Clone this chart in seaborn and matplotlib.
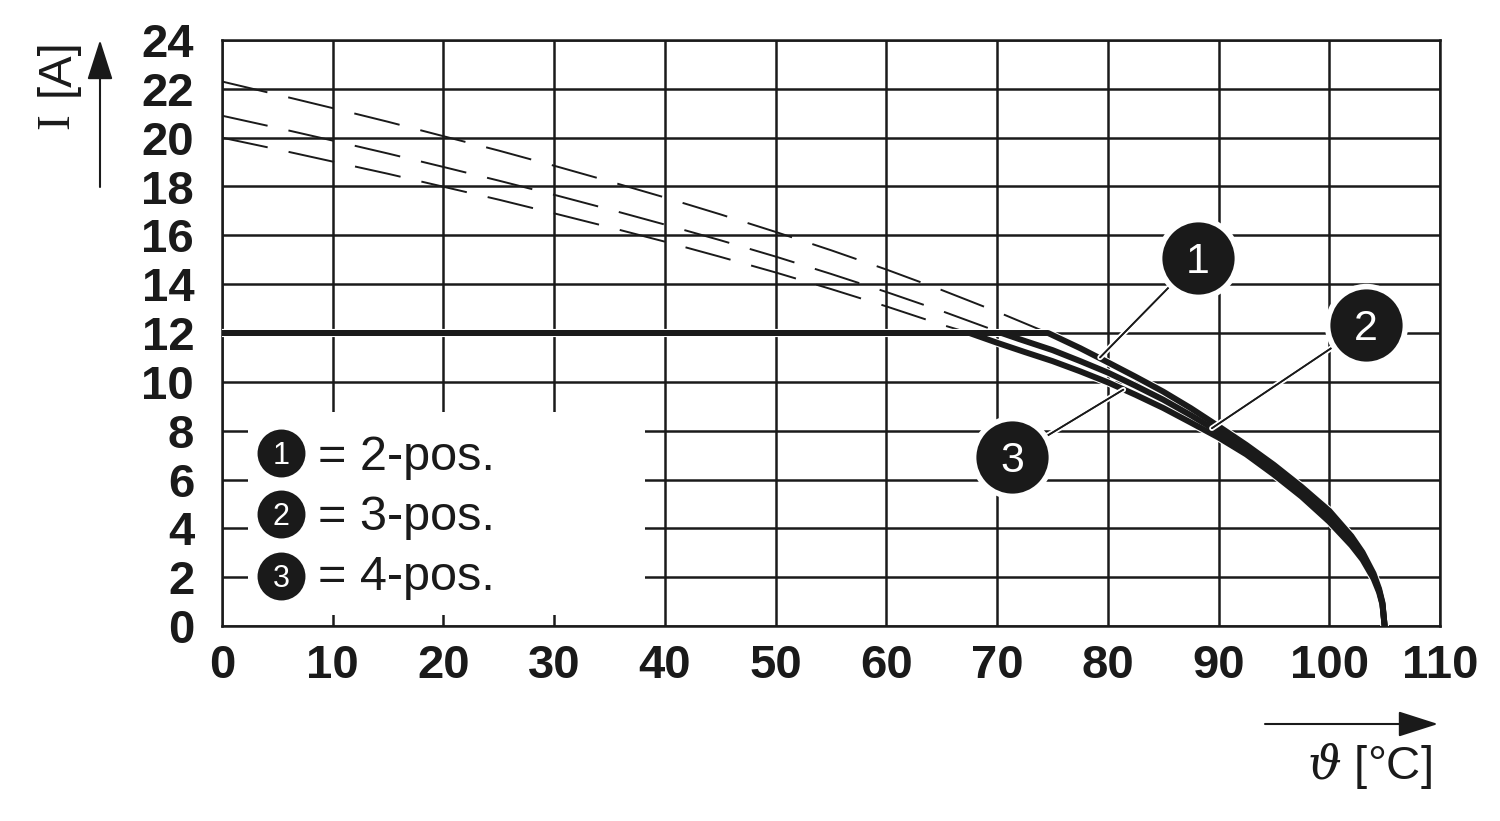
import matplotlib
matplotlib.use("Agg")
import matplotlib.pyplot as plt
import matplotlib.patheffects as pe
from matplotlib.patches import Rectangle
import seaborn as sns

# ---------------- data ----------------
x_ticks = [0, 10, 20, 30, 40, 50, 60, 70, 80, 90, 100, 110]
y_ticks = [0, 2, 4, 6, 8, 10, 12, 14, 16, 18, 20, 22, 24]

# dashed (unlimited) curves
dash1_t = [0, 5, 10, 15, 20, 25, 30, 35, 40, 45, 50, 55, 60, 65, 70, 74.6]
dash1_i = [22.3, 21.76, 21.21, 20.65, 20.06, 19.47, 18.85, 18.21, 17.55, 16.86, 16.14, 15.39, 14.6, 13.76, 12.87, 12.0]
dash2_t = [0, 5, 10, 15, 20, 25, 30, 35, 40, 45, 50, 55, 60, 65, 70, 70.4]
dash2_i = [20.9, 20.4, 19.88, 19.35, 18.8, 18.24, 17.66, 17.06, 16.44, 15.8, 15.13, 14.42, 13.68, 12.9, 12.07, 12.0]
dash3_t = [0, 5, 10, 15, 20, 25, 30, 35, 40, 45, 50, 55, 60, 65, 67.5]
dash3_i = [20.0, 19.52, 19.02, 18.52, 17.99, 17.46, 16.9, 16.33, 15.74, 15.12, 14.48, 13.8, 13.09, 12.34, 12.0]

# solid (limited to 12 A) curves
sol1_t = [0, 74.6, 77.5, 80, 82.5, 85, 87.5, 90, 92.5, 95, 97.5, 100, 102, 103, 104, 104.5, 104.8, 105]
sol1_i = [12, 12, 11.38, 10.8, 10.21, 9.6, 8.92, 8.18, 7.42, 6.6, 5.7, 4.72, 3.68, 3.02, 2.15, 1.52, 0.96, 0]
sol2_t = [0, 70.4, 72, 75, 77.5, 80, 82.5, 85, 87.5, 90, 92.5, 95, 97.5, 100, 102, 103, 104, 104.5, 104.8, 105]
sol2_i = [12, 12, 11.75, 11.3, 10.85, 10.38, 9.84, 9.27, 8.63, 7.95, 7.22, 6.42, 5.52, 4.5, 3.5, 2.88, 2.05, 1.45, 0.92, 0]
sol3_t = [0, 67.5, 70, 72.5, 75, 77.5, 80, 82.5, 85, 87.5, 90, 92.5, 95, 97.5, 100, 102, 103, 104, 104.5, 104.8, 105]
sol3_i = [12, 12, 11.6, 11.22, 10.85, 10.43, 9.98, 9.47, 8.93, 8.33, 7.72, 7.03, 6.2, 5.3, 4.27, 3.3, 2.72, 1.94, 1.38, 0.88, 0]

# callouts: number, circle centre, leader end on curve
callout_num = ["1", "2", "3"]
callout_cx = [88.1, 103.3, 71.35]
callout_cy = [15.07, 12.33, 6.92]
leader_x = [79.3, 89.4, 81.4]
leader_y = [11.0, 8.1, 9.68]

legend_num = ["1", "2", "3"]
legend_txt = ["= 2-pos.", "= 3-pos.", "= 4-pos."]
legend_cy = [7.08, 4.59, 2.05]
legend_base = [6.39, 3.93, 1.47]

INK = "#1a1a1a"

# ---------------- figure ----------------
sns.set_theme(style="white")
plt.rcParams["font.family"] = ["Liberation Sans", "DejaVu Sans"]
plt.rcParams["mathtext.fontset"] = "dejavuserif"

fig = plt.figure(figsize=(15, 8.21), dpi=100)
ax = fig.add_axes([222 / 1500, 195 / 821, 1218 / 1500, 586 / 821])

ax.set_xlim(0, 110)
ax.set_ylim(0, 24)
ax.set_xticks(x_ticks)
ax.set_yticks(y_ticks)
ax.set_xticklabels([str(v) for v in x_ticks], fontweight="bold", fontsize=34, color=INK)
ax.set_yticklabels([str(v) for v in y_ticks], fontweight="bold", fontsize=34, color=INK)
ax.tick_params(axis="both", length=0)
ax.tick_params(axis="x", pad=13)
ax.tick_params(axis="y", pad=20)
ax.grid(True, color=INK, lw=1.8)
ax.set_axisbelow(True)
for s in ax.spines.values():
    s.set_color(INK)
    s.set_linewidth(1.8)
    s.set_zorder(0.6)

# legend white box
ax.add_patch(Rectangle((2.35, 0.45), 38.2 - 2.35, 8.76 - 0.45, fc="white", ec="none", zorder=1.5))

# dashed curves
for t, i in [(dash1_t, dash1_i), (dash2_t, dash2_i), (dash3_t, dash3_i)]:
    sns.lineplot(x=t, y=i, ax=ax, color=INK, lw=1.4, linestyle=(0, (24, 11)),
                 sort=False, estimator=None, legend=False, zorder=2.5)

# solid curves: white halos first, then all black strokes on top
solids = [(sol1_t, sol1_i), (sol2_t, sol2_i), (sol3_t, sol3_i)]
for t, i in solids:
    sns.lineplot(x=t, y=i, ax=ax, color="white", lw=5.8, sort=False, estimator=None,
                 legend=False, zorder=2.9, solid_capstyle="round", solid_joinstyle="round")
for t, i in solids:
    sns.lineplot(x=t, y=i, ax=ax, color=INK, lw=4.3, sort=False, estimator=None,
                 legend=False, zorder=3, solid_capstyle="round", solid_joinstyle="round")

# callouts
for n, cx, cy, lx, ly in zip(callout_num, callout_cx, callout_cy, leader_x, leader_y):
    ax.plot([cx, lx], [cy, ly], color=INK, lw=1.2, solid_capstyle="round", zorder=5,
            path_effects=[pe.withStroke(linewidth=4.0, foreground="white"), pe.Normal()])
    ax.plot([cx], [cy], "o", ms=56, mfc=INK, mec="white", mew=4, zorder=6, clip_on=False)
    ax.annotate(n, xy=(cx, cy), xytext=(0, -0.716 * 31 / 2), textcoords="offset points",
                ha="center", va="baseline", fontsize=31, color="white", zorder=7,
                annotation_clip=False)

# legend entries
for n, t, cy, by in zip(legend_num, legend_txt, legend_cy, legend_base):
    ax.plot([5.33], [cy], "o", ms=34.5, mfc=INK, mec="none", zorder=4)
    ax.annotate(n, xy=(5.33, cy), xytext=(0, -0.716 * 22 / 2), textcoords="offset points",
                ha="center", va="baseline", fontsize=22, color="white", zorder=5)
    ax.text(8.67, by, t, fontsize=35, color=INK, ha="left", va="baseline", zorder=5)

# axis labels and arrows
fig.text(57 / 1500, 1 - 121 / 821, "I", rotation=90, family="Liberation Serif",
         fontsize=34, color=INK, ha="center", va="center")
fig.text(57 / 1500, 1 - 67 / 821, "[A]", rotation=90, fontsize=34, color=INK,
         ha="center", va="center")
fig.text(1432 / 1500, 1 - 766 / 821, r"$\vartheta$ [°C]", fontsize=34, color=INK,
         ha="right", va="center")

arrow_kw = dict(arrowstyle="-|>,head_length=2.5,head_width=0.8", color=INK, lw=1.5,
                shrinkA=0, shrinkB=0, mutation_scale=10)
ax.annotate("", xy=(100, 821 - 40), xycoords="figure pixels",
            xytext=(100, 821 - 187), textcoords="figure pixels", arrowprops=arrow_kw,
            annotation_clip=False)
ax.annotate("", xy=(1438, 821 - 724), xycoords="figure pixels",
            xytext=(1265, 821 - 724), textcoords="figure pixels", arrowprops=arrow_kw,
            annotation_clip=False)

fig.savefig("out.png", dpi=100, facecolor="white")
